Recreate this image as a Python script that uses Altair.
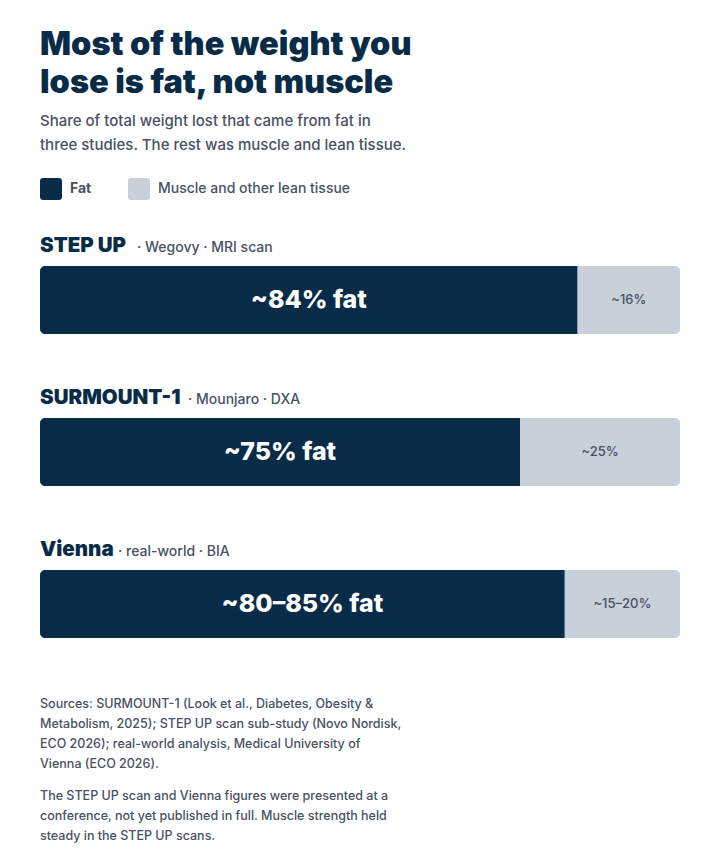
import altair as alt
import pandas as pd

# ---- data ----
studies = ["STEP UP", "SURMOUNT-1", "Vienna"]
details = ["· Wegovy · MRI scan", "· Mounjaro · DXA", "· real-world · BIA"]
fat_share = [84, 75, 82]
fat_labels = ["~84% fat", "~75% fat", "~80–85% fat"]
lean_labels = ["~16%", "~25%", "~15–20%"]
parts = ["Fat", "Muscle and other lean tissue"]

title_lines = ["Most of the weight you", "lose is fat, not muscle"]
subtitle_lines = ["Share of total weight lost that came from fat in",
                  "three studies. The rest was muscle and lean tissue."]
source_lines = ["Sources: SURMOUNT-1 (Look et al., Diabetes, Obesity &",
                "Metabolism, 2025); STEP UP scan sub-study (Novo Nordisk,",
                "ECO 2026); real-world analysis, Medical University of",
                "Vienna (ECO 2026)."]
note_lines = ["The STEP UP scan and Vienna figures were presented at a",
              "conference, not yet published in full. Muscle strength held",
              "steady in the STEP UP scans."]

# ---- styles ----
NAVY = "#082c47"
LIGHT = "#c8d0da"
GRAY = "#4a5161"
FONT = "Inter"
W, H = 640, 844

seg_rows = []
for s, f in zip(studies, fat_share):
    seg_rows.append({"study": s, "part": parts[0], "start": 0, "end": f})
    seg_rows.append({"study": s, "part": parts[1], "start": f, "end": 100})
seg = pd.DataFrame(seg_rows)

lab = pd.DataFrame({
    "study": studies,
    "detail": details,
    "fat_label": fat_labels,
    "lean_label": lean_labels,
    "fat_mid": [f / 2 for f in fat_share],
    "lean_mid": [(f + 100) / 2 for f in fat_share],
})

xscale = alt.Scale(domain=[0, 100], range=[0, W], nice=False, zero=True)
yscale = alt.Scale(domain=studies, range=[258, 630], paddingInner=0.5526, paddingOuter=0)
cscale = alt.Scale(domain=parts, range=[NAVY, LIGHT])

Y = alt.Y("study:N", scale=yscale, axis=None, sort=studies)
Ytop = alt.Y("study:N", scale=yscale, axis=None, sort=studies, bandPosition=0)

rounded_square = ("M -0.7,-1 L 0.7,-1 Q 1,-1 1,-0.7 L 1,0.7 Q 1,1 0.7,1 "
                  "L -0.7,1 Q -1,1 -1,0.7 L -1,-0.7 Q -1,-1 -0.7,-1 Z")

legend = alt.Legend(
    title=None, orient="none", legendX=0, legendY=170, direction="horizontal",
    symbolType=rounded_square, symbolSize=484, symbolStrokeWidth=0, symbolOpacity=1,
    labelFont=FONT, labelFontSize=14, labelColor=GRAY,
    labelFontWeight={"expr": "datum.label == 'Fat' ? 700 : 500"},
    labelOffset=8, columnPadding=36, padding=0, labelLimit=400,
)

fat_bars = alt.Chart(seg).transform_filter(alt.datum.part == parts[0]).mark_bar(
    cornerRadiusTopLeft=5, cornerRadiusBottomLeft=5
).encode(
    x=alt.X("start:Q", scale=xscale, axis=None),
    x2="end:Q",
    y=Y,
    color=alt.Color("part:N", scale=cscale, legend=legend),
)
lean_bars = alt.Chart(seg).transform_filter(alt.datum.part == parts[1]).mark_bar(
    cornerRadiusTopRight=5, cornerRadiusBottomRight=5
).encode(
    x=alt.X("start:Q", scale=xscale, axis=None),
    x2="end:Q",
    y=Y,
    color=alt.Color("part:N", scale=cscale, legend=legend),
)

fat_text = alt.Chart(lab).mark_text(
    font=FONT, fontSize=25, fontWeight=800, color="white", align="center", baseline="middle"
).encode(x=alt.X("fat_mid:Q", scale=xscale), y=Y, text="fat_label:N")

lean_text = alt.Chart(lab).mark_text(
    font=FONT, fontSize=13, fontWeight=500, color=GRAY, align="center", baseline="middle"
).encode(x=alt.X("lean_mid:Q", scale=xscale), y=Y, text="lean_label:N")

name_text = alt.Chart(lab).mark_text(
    font=FONT, fontSize=20.5, fontWeight=900, color=NAVY, align="left",
    baseline="alphabetic", dy=-14
).encode(x=alt.value(0), y=Ytop, text="study:N")

# offsets of the detail text after each bold study name
detail_x = [97, 148, 78]
detail_layers = []
for s, dx in zip(studies, detail_x):
    detail_layers.append(
        alt.Chart(lab).transform_filter(alt.datum.study == s).mark_text(
            font=FONT, fontSize=14, fontWeight=500, color=GRAY, align="left",
            baseline="alphabetic", dy=-14
        ).encode(x=alt.value(dx), y=Ytop, text="detail:N")
    )

one = pd.DataFrame({"k": [0]})


def block(lines, y, size, weight, color, lh):
    return alt.Chart(one).mark_text(
        font=FONT, fontSize=size, fontWeight=weight, color=color, align="left",
        baseline="alphabetic", lineHeight=lh
    ).encode(x=alt.value(0), y=alt.value(y), text=alt.value(lines))


title = block(title_lines, 47, 32.5, 900, NAVY, 38)
subtitle = block(subtitle_lines, 118, 15, 500, GRAY, 24)
sources = block(source_lines, 700, 12.5, 500, GRAY, 20)
notes = block(note_lines, 792, 12.5, 500, GRAY, 20)

chart = alt.layer(
    fat_bars, lean_bars, fat_text, lean_text, name_text, *detail_layers,
    title, subtitle, sources, notes
).properties(
    width=W, height=H,
    padding={"left": 32, "right": 32, "top": 0, "bottom": 0},
    background="white",
).configure_view(stroke=None)

chart.save("out.html", embed_options={"renderer": "svg", "actions": False})
